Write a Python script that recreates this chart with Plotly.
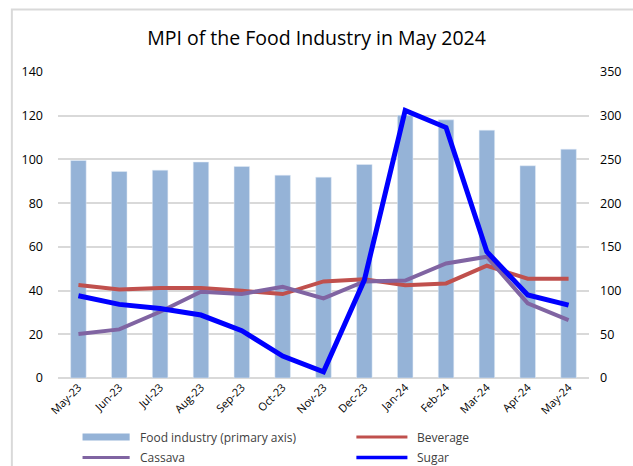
import plotly.graph_objects as go

months = ["May-23", "Jun-23", "Jul-23", "Aug-23", "Sep-23", "Oct-23", "Nov-23",
          "Dec-23", "Jan-24", "Feb-24", "Mar-24", "Apr-24", "May-24"]
food_industry = [99.5, 94.5, 95.1, 98.8, 96.8, 92.8, 91.9, 97.7, 120.2, 118.1, 113.4, 97.1, 104.7]
beverage = [106.3, 101.3, 102.9, 102.9, 99.8, 96.0, 110.5, 113.0, 106.0, 108.2, 128.4, 113.5, 113.5]
cassava = [50.3, 55.6, 75.8, 98.7, 96.0, 104.4, 91.0, 110.5, 111.5, 131.0, 138.7, 85.3, 66.3]
sugar = [94.1, 84.2, 79.6, 72.0, 54.1, 25.1, 7.2, 112.0, 306.0, 286.5, 144.4, 94.9, 83.4]

left_ticks = [0, 20, 40, 60, 80, 100, 120, 140]
right_ticks = [0, 50, 100, 150, 200, 250, 300, 350]

W, H = 633, 466
ML, MR, MT, MB = 58, 34, 72, 88
PW, PH = W - ML - MR, H - MT - MB

def px(x):
    return (x - ML) / PW

def py(y):
    return (H - MB - y) / PH

C_BAR = "#95B3D7"
C_BEV = "#C0504D"
C_CAS = "#8064A2"
C_SUG = "#0000FF"
FONT = "Open Sans"

fig = go.Figure()
fig.add_trace(go.Bar(x=months, y=food_industry, marker_color=C_BAR, name="Food industry (primary axis)",
                     showlegend=False, yaxis="y"))
fig.add_trace(go.Scatter(x=months, y=beverage, mode="lines", line=dict(color=C_BEV, width=4),
                         name="Beverage", showlegend=False, yaxis="y2"))
fig.add_trace(go.Scatter(x=months, y=cassava, mode="lines", line=dict(color=C_CAS, width=4),
                         name="Cassava", showlegend=False, yaxis="y2"))
fig.add_trace(go.Scatter(x=months, y=sugar, mode="lines", line=dict(color=C_SUG, width=5),
                         name="Sugar", showlegend=False, yaxis="y2"))

# manual legend
legend_items = [
    ("Food industry (primary axis)", C_BAR, 7, 83, 131, 139, 437),
    ("Beverage", C_BEV, 3, 362, 414, 422, 437),
    ("Cassava", C_CAS, 3, 83, 131, 139, 457.5),
    ("Sugar", C_SUG, 3.5, 362, 414, 422, 457.5),
]
shapes = []
annotations = []
for name, col, wd, x0, x1, tx, yy in legend_items:
    shapes.append(dict(type="line", xref="paper", yref="paper", x0=px(x0), x1=px(x1),
                       y0=py(yy), y1=py(yy), line=dict(color=col, width=wd)))
    annotations.append(dict(text=name, xref="paper", yref="paper", x=px(tx), y=py(yy),
                            xanchor="left", yanchor="middle", showarrow=False,
                            font=dict(family=FONT, size=12, color="#404040")))

# outer frame
shapes.append(dict(type="rect", xref="paper", yref="paper", x0=px(11), x1=px(645),
                   y0=py(480), y1=py(9.5), line=dict(color="#D9D9D9", width=2), layer="below"))

fig.update_layout(
    width=W, height=H,
    margin=dict(l=ML, r=MR, t=MT, b=MB),
    paper_bgcolor="white", plot_bgcolor="white",
    title=dict(text="MPI of the Food Industry in May 2024", x=0.5, xanchor="center",
               y=1 - 38 / H, yanchor="middle",
               font=dict(family=FONT, size=19.5, color="#000000")),
    font=dict(family=FONT, size=12, color="#000000"),
    bargap=0.62,
    xaxis=dict(type="category", tickangle=-45, showgrid=False, ticks="",
               showline=False, tickfont=dict(size=11, color="#000000")),
    yaxis=dict(range=[0, 140], tickvals=left_ticks, showgrid=True, gridcolor="#D9D9D9",
               gridwidth=1.5, zeroline=True, zerolinecolor="#D9D9D9", zerolinewidth=1.5,
               ticks="", showline=False, tickfont=dict(size=12.5), ticklabelstandoff=14),
    yaxis2=dict(range=[0, 350], tickvals=right_ticks, overlaying="y", side="right",
                showgrid=False, zeroline=False, ticks="", showline=False,
                tickfont=dict(size=12.5), ticklabelstandoff=10),
    shapes=shapes,
    annotations=annotations,
)

fig.write_html("out.html", config={"displayModeBar": False},
               post_script="document.body.style.margin='0';document.body.style.overflow='hidden';")
